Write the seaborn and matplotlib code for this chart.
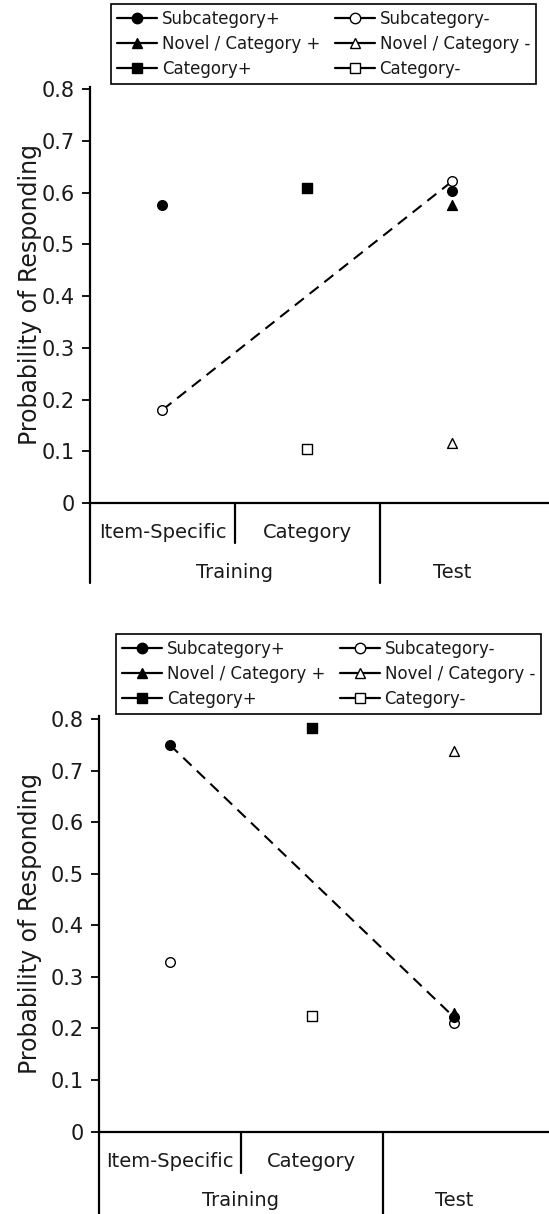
import numpy as np
import pandas as pd
import matplotlib
matplotlib.use("Agg")
import matplotlib.pyplot as plt
import seaborn as sns
from matplotlib.lines import Line2D
from matplotlib.transforms import offset_copy

# ---------------- data ----------------
phases = ["Item-Specific", "Category", "Test"]
phase_groups = ["Training", "Test"]
series_names = ["Subcategory+", "Subcategory-", "Novel / Category +",
                "Novel / Category -", "Category+", "Category-"]
y_ticks = [0, 0.1, 0.2, 0.3, 0.4, 0.5, 0.6, 0.7, 0.8]
y_tick_labels = ["0", "0.1", "0.2", "0.3", "0.4", "0.5", "0.6", "0.7", "0.8"]
y_label = "Probability of Responding"

# top panel (values per phase: Item-Specific, Category, Test)
top_sub_plus = [0.576, np.nan, 0.603]
top_sub_minus = [0.180, np.nan, 0.622]
top_nov_plus = [np.nan, np.nan, 0.576]
top_nov_minus = [np.nan, np.nan, 0.117]
top_cat_plus = [np.nan, 0.610, np.nan]
top_cat_minus = [np.nan, 0.104, np.nan]
top_dashed = "Subcategory-"

# bottom panel
bot_sub_plus = [0.750, np.nan, 0.222]
bot_sub_minus = [0.329, np.nan, 0.210]
bot_nov_plus = [np.nan, np.nan, 0.230]
bot_nov_minus = [np.nan, np.nan, 0.738]
bot_cat_plus = [np.nan, 0.783, np.nan]
bot_cat_minus = [np.nan, 0.224, np.nan]
bot_dashed = "Subcategory+"

# ---------------- styles ----------------
styles = {
    "Subcategory+": dict(marker="o", face="black", s=48, z=4),
    "Subcategory-": dict(marker="o", face="white", s=48, z=3),
    "Novel / Category +": dict(marker="^", face="black", s=50, z=5),
    "Novel / Category -": dict(marker="^", face="white", s=50, z=5),
    "Category+": dict(marker="s", face="black", s=52, z=4),
    "Category-": dict(marker="s", face="white", s=52, z=4),
}

sns.set_theme(style="white")
plt.rcParams["font.family"] = ["DejaVu Sans"]

W, H = 549, 1214
fig = plt.figure(figsize=(W / 100, H / 100), dpi=100)

def make_df(vals):
    df = pd.DataFrame({"phase": phases, "x": range(len(phases)), "y": vals})
    return df.dropna()

def draw_panel(rect, data, dashed, legend_anchor, label_x,
               short_px, long_px, lab1_px, lab2_px):
    ax = fig.add_axes(rect)
    ax_h_px = rect[3] * H
    # dashed line
    ddf = make_df(data[dashed])
    sns.lineplot(data=ddf, x="x", y="y", ax=ax, color="black",
                 linewidth=1.5, linestyle=(0, (5.5, 3.5)), zorder=2,
                 legend=False, estimator=None)
    for name in series_names:
        st = styles[name]
        df = make_df(data[name])
        sns.scatterplot(data=df, x="x", y="y", ax=ax, marker=st["marker"],
                        s=st["s"], color=st["face"], edgecolor="black",
                        linewidth=1.0, zorder=st["z"], legend=False)
    ax.set_xlim(-0.5, 2.67)
    ax.set_ylim(0, 0.805)
    ax.set_yticks(y_ticks)
    ax.set_yticklabels(y_tick_labels)
    ax.set_xticks([])
    ax.set_xlabel("")
    ax.set_ylabel(y_label, fontsize=17, color="#1a1a1a")
    ax.yaxis.set_label_coords(label_x, 0.5)
    for sp in ["top", "right"]:
        ax.spines[sp].set_visible(False)
    for sp in ["left", "bottom"]:
        ax.spines[sp].set_color("black")
        ax.spines[sp].set_linewidth(1.6)
    ax.tick_params(axis="y", direction="out", length=6, width=1.3,
                   labelsize=15, pad=5, colors="black", left=True)
    for t in ax.get_yticklabels():
        t.set_color("#1a1a1a")
    ax.set_facecolor("white")

    # group separator lines below the axis
    xt = ax.get_xaxis_transform()
    ax.plot([0.5, 0.5], [0, -short_px / ax_h_px], transform=xt,
            color="black", lw=1.6, clip_on=False)
    for xv in [-0.5, 1.5]:
        ax.plot([xv, xv], [0, -long_px / ax_h_px], transform=xt,
                color="black", lw=1.6, clip_on=False)
    t1 = offset_copy(xt, fig=fig, y=-lab1_px, units="dots")
    t2 = offset_copy(xt, fig=fig, y=-lab2_px, units="dots")
    for i, p in enumerate(phases[:2]):
        ax.text(i, 0, p, transform=t1, ha="center", va="center",
                fontsize=14, color="#1a1a1a")
    ax.text(0.5, 0, phase_groups[0], transform=t2, ha="center",
            va="center", fontsize=14, color="#1a1a1a")
    ax.text(2, 0, phase_groups[1], transform=t2, ha="center",
            va="center", fontsize=14, color="#1a1a1a")

    # legend (column-major order)
    order = ["Subcategory+", "Novel / Category +", "Category+",
             "Subcategory-", "Novel / Category -", "Category-"]
    handles = [Line2D([0], [0], color="black", lw=1.6,
                      marker=styles[n]["marker"],
                      markerfacecolor=styles[n]["face"],
                      markeredgecolor="black", markersize=7.5)
               for n in order]
    leg = ax.legend(handles, order, loc="upper left",
                    bbox_to_anchor=legend_anchor,
                    bbox_transform=fig.transFigure, ncol=2,
                    fontsize=12, frameon=True, fancybox=False,
                    edgecolor="black", framealpha=1, borderaxespad=0,
                    borderpad=0.36, labelspacing=0.43, handlelength=2.4,
                    handletextpad=0.3, columnspacing=0.85)
    leg.get_frame().set_linewidth(1.2)
    for t in leg.get_texts():
        t.set_color("#1a1a1a")
    return ax

top_data = {"Subcategory+": top_sub_plus, "Subcategory-": top_sub_minus,
            "Novel / Category +": top_nov_plus,
            "Novel / Category -": top_nov_minus,
            "Category+": top_cat_plus, "Category-": top_cat_minus}
bot_data = {"Subcategory+": bot_sub_plus, "Subcategory-": bot_sub_minus,
            "Novel / Category +": bot_nov_plus,
            "Novel / Category -": bot_nov_minus,
            "Category+": bot_cat_plus, "Category-": bot_cat_minus}

# top axes: left 90px, zero at y=503px, 0.805 at y=86.8px
draw_panel([90 / W, 1 - 503 / H, 1 - 90 / W, (503 - 86.8) / H],
           top_data, top_dashed, (111 / W, 1 - 4 / H), -0.105,
           short_px=40, long_px=80, lab1_px=29, lab2_px=69)
# bottom axes: left 98.7px, zero at y=1131.5px
draw_panel([98.7 / W, 1 - 1131.5 / H, 1 - 98.7 / W, (1131.5 - 716.4) / H],
           bot_data, bot_dashed, (116 / W, 1 - 634 / H), -0.126,
           short_px=41, long_px=82, lab1_px=30, lab2_px=68.5)

fig.savefig("out.png", dpi=100, facecolor="white")
